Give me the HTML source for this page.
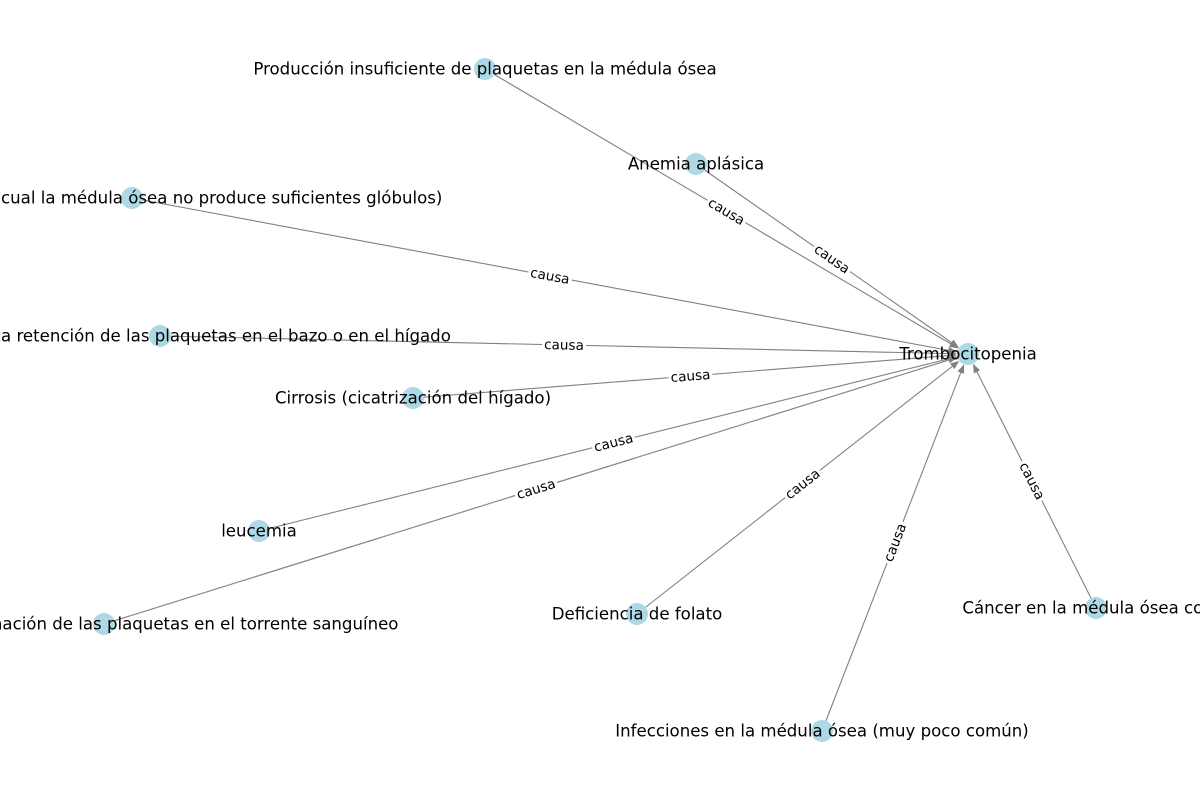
<!DOCTYPE html>
<html><head><meta charset="utf-8"><style>
html,body{margin:0;padding:0;background:#fff;overflow:hidden}
svg{display:block}
.nl{font-family:"DejaVu Sans","Liberation Sans",sans-serif;font-size:16.6px;fill:#000}
.el{font-family:"DejaVu Sans","Liberation Sans",sans-serif;font-size:13.6px;fill:#000}
</style></head><body>
<svg id="g" width="1200" height="800" viewBox="0 0 1200 800"></svg>
<script>
const nodeNames=["Trombocitopenia","Producción insuficiente de plaquetas en la médula ósea","Anemia aplásica","Aplasia (estado en la cual la médula ósea no produce suficientes glóbulos)","Acumulación o la retención de las plaquetas en el bazo o en el hígado","Cirrosis (cicatrización del hígado)","leucemia","La destrucción o eliminación de las plaquetas en el torrente sanguíneo","Deficiencia de folato","Infecciones en la médula ósea (muy poco común)","Cáncer en la médula ósea como"];
const nodeX=[968,485,696,132,160,413,259,104,637,822,1096];
const nodeY=[354,69,164,198,336,398,531,624,614,731,608];
const edgeSource=[1,2,3,4,5,6,7,8,9,10];
const edgeTarget=[0,0,0,0,0,0,0,0,0,0];
const edgeLabels=["causa","causa","causa","causa","causa","causa","causa","causa","causa","causa"];
const NS="http://www.w3.org/2000/svg";
const svg=document.getElementById('g');
function mk(t,a){const e=document.createElementNS(NS,t);for(const k in a)e.setAttribute(k,a[k]);return e;}
const R=11;
const gE=mk('g',{}),gN=mk('g',{}),gEL=mk('g',{}),gL=mk('g',{});
svg.append(gE,gN,gEL,gL);
edgeSource.forEach((s,i)=>{
  const t=edgeTarget[i];
  const x1=nodeX[s],y1=nodeY[s],x2=nodeX[t],y2=nodeY[t];
  const dx=x2-x1,dy=y2-y1,L=Math.hypot(dx,dy),ux=dx/L,uy=dy/L;
  const ex=x2-ux*R,ey=y2-uy*R;
  const ln=mk('line',{x1:x1,y1:y1,x2:ex-ux*6,y2:ey-uy*6,stroke:'#808080','stroke-width':1.1});
  
  
  gE.appendChild(ln);
  const px=-uy,py=ux;
  const ah=mk('polygon',{points:`${ex},${ey} ${ex-ux*9+px*3.5},${ey-uy*9+py*3.5} ${ex-ux*9-px*3.5},${ey-uy*9-py*3.5}`,fill:'#808080'});
  
  
  gE.appendChild(ah);
  const mx=(x1+x2)/2,my=(y1+y2)/2;
  let ang=Math.atan2(dy,dx)*180/Math.PI;
  if(ang>90)ang-=180;if(ang<-90)ang+=180;
  const g=mk('g',{transform:`translate(${mx},${my}) rotate(${ang})`});
  
  
  const tx=mk('text',{class:'el','text-anchor':'middle',y:4.5});
  tx.textContent=edgeLabels[i];
  g.appendChild(tx);gEL.appendChild(g);
  const w=tx.getComputedTextLength();
  const rc=mk('rect',{x:-w/2-2,y:-8,width:w+4,height:16,rx:3,fill:'#fff'});
  g.insertBefore(rc,tx);
});
nodeNames.forEach((n,i)=>{
  const c=mk('circle',{cx:nodeX[i],cy:nodeY[i],r:R,fill:'#add8e6'});
  
  
  gN.appendChild(c);
  const t=mk('text',{class:'nl',x:nodeX[i],y:nodeY[i]+5.5,'text-anchor':'middle'});
  
  
  t.textContent=n;gL.appendChild(t);
});
</script>
</body></html>
